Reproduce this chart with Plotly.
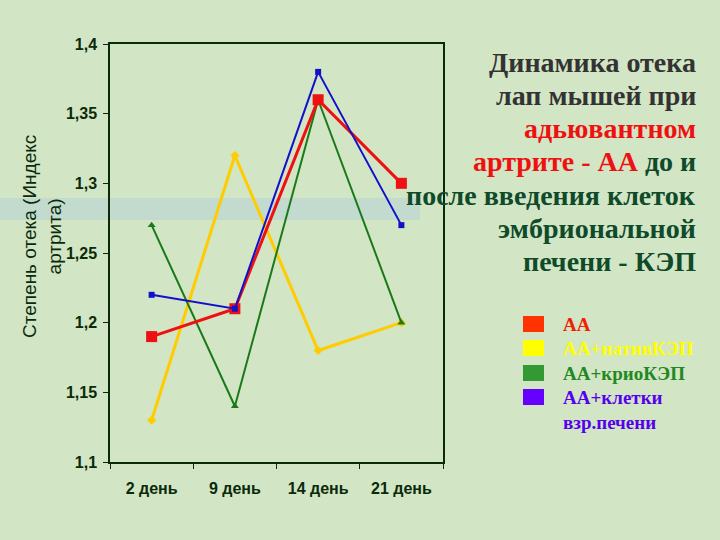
import plotly.graph_objects as go

days = ["2 день", "9 день", "14 день", "21 день"]
aa = [1.19, 1.21, 1.36, 1.30]
aa_nativ = [1.13, 1.32, 1.18, 1.20]
aa_krio = [1.27, 1.14, 1.36, 1.20]
aa_liver = [1.22, 1.21, 1.38, 1.27]
y_ticks = [1.1, 1.15, 1.2, 1.25, 1.3, 1.35, 1.4]

legend_names = ["АА", "АА+нативКЭП", "АА+криоКЭП", "АА+клетки<br>взр.печени"]
title_lines = [
    "Динамика отека",
    "лап мышей при",
    "<span style='color:#ee1111'>адьювантном</span>",
    "<span style='color:#ee1111'>артрите - АА</span> до и",
    "после введения клеток",
    "эмбриональной",
    "печени - КЭП",
]

L, T, R, B = 110, 44, 443, 462
W, H = R - L, B - T


def px(x):
    return (x - L) / W


def py(y):
    return (B - y) / H


fig = go.Figure()
fig.add_trace(go.Scatter(x=days, y=aa_nativ, mode="lines+markers", name=legend_names[1],
                         line=dict(color="#ffcc00", width=3),
                         marker=dict(symbol="diamond", size=7, color="#ffcc00")))
fig.add_trace(go.Scatter(x=days, y=aa_krio, mode="lines+markers", name=legend_names[2],
                         line=dict(color="#1a7a1a", width=2),
                         marker=dict(symbol="triangle-up", size=7, color="#1a7a1a")))
fig.add_trace(go.Scatter(x=days, y=aa, mode="lines+markers", name=legend_names[0],
                         line=dict(color="#ee1111", width=3),
                         marker=dict(symbol="square", size=11, color="#ee1111")))
fig.add_trace(go.Scatter(x=days, y=aa_liver, mode="lines+markers", name=legend_names[3],
                         line=dict(color="#1111cc", width=2),
                         marker=dict(symbol="square", size=6, color="#1111cc")))

# faint blue band in background
fig.add_shape(type="rect", xref="paper", yref="paper", x0=px(0), x1=px(420), y0=py(220), y1=py(198),
              fillcolor="rgba(170,200,230,0.35)", line=dict(width=0), layer="below")

line_colors = ["#333333", "#333333"] + ["#0f4a2a"] * 5
for i, (txt, col) in enumerate(zip(title_lines, line_colors)):
    fig.add_annotation(text="<b>" + txt + "</b>", xref="paper", yref="paper",
                       x=px(698), y=py(62 + i * 33.3), xanchor="right", yanchor="middle",
                       showarrow=False,
                       font=dict(family="Liberation Serif", size=28, color=col))

# y-axis title
fig.add_annotation(text="Степень отека (Индекс<br>артрита)", xref="paper", yref="paper",
                   x=px(42), y=py(237), textangle=-90, showarrow=False,
                   xanchor="center", yanchor="middle",
                   font=dict(family="Liberation Sans", size=19, color="#0a2a0a"))

legend_colors = ["#ff3300", "#ffff00", "#339933", "#6600ff"]
legend_text_colors = ["#ee2200", "#ffff00", "#228822", "#5500ee"]
legend_y = [324, 348, 373, 397]
for name, c, tc, ly in zip(legend_names, legend_colors, legend_text_colors, legend_y):
    fig.add_shape(type="rect", xref="paper", yref="paper",
                  x0=px(523), x1=px(544),
                  y0=py(ly + 8), y1=py(ly - 8),
                  fillcolor=c, line=dict(width=0))
    fig.add_annotation(text="<b>" + name + "</b>", xref="paper", yref="paper",
                       x=px(561), y=py(ly - 12), xanchor="left", yanchor="top",
                       align="left", showarrow=False,
                       font=dict(family="Liberation Serif", size=19, color=tc))

fig.update_layout(
    width=720, height=540,
    margin=dict(l=L, r=720 - R, t=T, b=540 - B),
    paper_bgcolor="#d2e5c4", plot_bgcolor="rgba(0,0,0,0)",
    showlegend=False,
    separators=", ",
    font=dict(family="Liberation Sans", color="#0a2a0a"),
)
fig.update_xaxes(range=[-0.5, len(days) - 0.5], tickson="boundaries",
                 showgrid=False, showline=True, linecolor="#0a2a0a", linewidth=1.5, mirror=True,
                 ticks="outside", ticklen=5, tickcolor="#0a2a0a", ticklabelstandoff=11,
                 tickfont=dict(size=16, family="Liberation Sans", weight="bold", color="#0a2a0a"))
fig.update_yaxes(range=[1.1, 1.4], tickvals=y_ticks, showgrid=False, zeroline=False,
                 showline=True, linecolor="#0a2a0a", linewidth=1.5, mirror=True,
                 ticks="outside", ticklen=5, tickcolor="#0a2a0a", ticklabelstandoff=3,
                 tickfont=dict(size=16, family="Liberation Sans", weight="bold", color="#0a2a0a"))

fig.write_html("out.html", config={"displayModeBar": False},
               post_script="document.body.style.margin='0';")
